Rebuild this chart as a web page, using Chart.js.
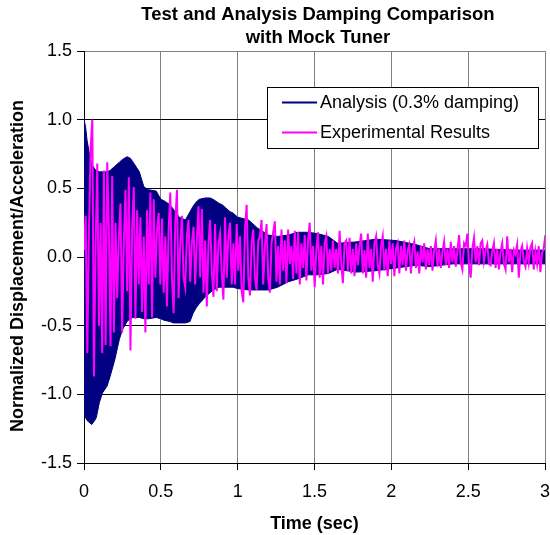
<!DOCTYPE html>
<html>
<head>
<meta charset="utf-8">
<script src="https://cdn.jsdelivr.net/npm/chart.js@4.4.0/dist/chart.umd.min.js"></script>
<style>
  html, body { margin: 0; padding: 0; background: #fff; }
</style>
</head>
<body>
<canvas id="chart" width="550" height="535"></canvas>
<script>
// Chart text
const titleLines = ['Test and Analysis Damping Comparison', 'with Mock Tuner'];
const xTitle = 'Time (sec)';
const yTitle = 'Normalized Displacement/Acceleration';
const analysisLabel = 'Analysis (0.3% damping)';
const experimentLabel = 'Experimental Results';

// Analysis response: the high-frequency band, read as its upper / lower envelope
const envTime = [0, 0.01, 0.02, 0.04, 0.05, 0.07, 0.08, 0.10, 0.12, 0.15,
    0.17, 0.20, 0.23, 0.25, 0.28, 0.30, 0.32, 0.36, 0.39, 0.42,
    0.47, 0.50, 0.52, 0.56, 0.58, 0.62, 0.66, 0.69, 0.71, 0.73,
    0.75, 0.79, 0.82, 0.84, 0.88, 0.90, 0.95, 0.97, 1.00, 1.07,
    1.13, 1.20, 1.26, 1.33, 1.39, 1.46, 1.52, 1.59, 1.65, 1.77,
    1.90, 2.03, 2.16, 2.25, 2.40, 2.60, 2.80, 3.00];
const envUpper = [1.00, 0.95, 0.85, 0.72, 0.68, 0.64, 0.63, 0.62, 0.62, 0.62,
    0.63, 0.66, 0.69, 0.71, 0.73, 0.72, 0.69, 0.62, 0.51, 0.49,
    0.48, 0.42, 0.41, 0.38, 0.35, 0.29, 0.27, 0.33, 0.37, 0.40,
    0.42, 0.43, 0.43, 0.42, 0.39, 0.38, 0.33, 0.32, 0.29, 0.27,
    0.21, 0.16, 0.15, 0.16, 0.18, 0.18, 0.17, 0.15, 0.10, 0.11,
    0.13, 0.12, 0.09, 0.06, 0.06, 0.06, 0.05, 0.05];
const envLower = [-1.10, -1.17, -1.19, -1.21, -1.22, -1.19, -1.17, -1.06, -0.99, -0.94,
    -0.87, -0.75, -0.60, -0.53, -0.47, -0.45, -0.44, -0.44, -0.45, -0.45,
    -0.44, -0.45, -0.46, -0.47, -0.48, -0.48, -0.48, -0.47, -0.41, -0.37,
    -0.34, -0.29, -0.26, -0.24, -0.22, -0.22, -0.22, -0.22, -0.23, -0.24,
    -0.24, -0.24, -0.22, -0.18, -0.16, -0.13, -0.13, -0.12, -0.09, -0.11,
    -0.10, -0.08, -0.06, -0.07, -0.05, -0.05, -0.05, -0.05];

// Experimental record, sampled every expStep seconds (one row = 10 samples)
const expStep = 0.0108;
const expValues = [
    0.05, 0.30, -0.70, 0.20, 0.79, 1.00, -0.87, 0.10, 0.68, -0.50,
    0.25, -0.70, 0.63, -0.64, 0.69, 0.20, -0.65, 0.59, -0.55, 0.25,
    -0.30, 0.15, 0.39, -0.55, 0.10, 0.49, -0.25, 0.58, -0.68, 0.20,
    0.51, -0.45, 0.34, -0.20, 0.29, -0.40, 0.15, -0.55, 0.34, -0.20,
    0.47, -0.44, 0.42, -0.15, 0.20, 0.32, -0.20, 0.28, -0.26, 0.15,
    -0.36, 0.20, 0.47, -0.15, -0.41, 0.25, 0.49, -0.30, 0.10, 0.30,
    -0.15, -0.22, 0.15, 0.27, -0.18, 0.10, 0.22, -0.20, 0.12, 0.37,
    -0.15, 0.35, -0.26, 0.12, -0.36, 0.10, 0.27, -0.10, -0.29, 0.24,
    -0.25, 0.10, 0.17, -0.12, -0.31, 0.29, -0.15, 0.15, 0.25, -0.20,
    0.10, -0.20, 0.24, -0.10, 0.15, -0.25, -0.33, 0.20, 0.38, -0.15,
    -0.28, 0.10, 0.20, -0.15, -0.24, 0.12, 0.15, 0.27, -0.20, 0.08,
    0.24, -0.15, -0.26, 0.10, 0.18, 0.26, -0.18, 0.08, -0.20, 0.20,
    -0.10, 0.12, -0.19, 0.20, -0.05, 0.08, -0.16, 0.19, -0.12, 0.18,
    -0.20, 0.10, -0.08, 0.16, -0.17, 0.12, 0.25, -0.10, 0.08, -0.22,
    0.05, 0.18, -0.15, 0.08, -0.20, 0.10, 0.15, -0.12, 0.06, -0.10,
    0.12, -0.08, 0.06, -0.12, 0.19, -0.05, -0.19, 0.10, 0.12, -0.10,
    0.14, -0.12, 0.06, -0.14, 0.10, -0.06, 0.08, 0.17, -0.12, 0.05,
    -0.15, 0.17, -0.08, 0.06, -0.18, 0.10, 0.15, -0.06, -0.12, 0.08,
    0.15, -0.10, 0.06, -0.14, 0.12, -0.05, 0.10, -0.14, 0.06, 0.10,
    -0.12, 0.08, -0.06, 0.12, -0.10, 0.05, 0.09, -0.12, 0.06, 0.11,
    -0.08, 0.04, -0.12, 0.08, -0.04, 0.10, -0.09, 0.06, -0.06, 0.08,
    -0.10, 0.05, 0.12, -0.07, 0.06, -0.08, 0.04, 0.11, -0.06, 0.06,
    -0.08, 0.11, -0.04, 0.08, -0.07, 0.05, 0.16, -0.04, -0.09, 0.10,
    0.08, 0.17, -0.06, -0.15, 0.06, 0.14, -0.04, 0.08, -0.06, 0.10,
    0.12, -0.03, 0.05, 0.09, -0.05, -0.06, 0.04, 0.10, -0.08, 0.06,
    -0.09, 0.04, 0.10, -0.05, -0.09, 0.15, -0.04, 0.06, -0.11, 0.05,
    0.02, 0.09, -0.15, 0.04, 0.08, -0.03, -0.07, 0.06, -0.04, 0.07,
    0.10, -0.09, 0.04, -0.05, 0.08, -0.11, 0.03, 0.06, 0.16, -0.04];

// Tick values
const xTicks = [0, 0.5, 1, 1.5, 2, 2.5, 3];
const yTicks = [-1.5, -1.0, -0.5, 0.0, 0.5, 1.0, 1.5];

const FONT = '"Liberation Sans", Arial, Helvetica, sans-serif';
const NAVY = '#000080';
const MAGENTA = '#FF00FF';

const legendItems = [
    { label: analysisLabel, color: NAVY },
    { label: experimentLabel, color: MAGENTA }
];

const toPoints = (xs, ys) => ys.map((y, i) => ({ x: xs[i], y: y }));
const expTime = expValues.map((v, i) => +(i * expStep).toFixed(4));

// Title, rotated y title and the boxed legend inside the plot
const overlayPlugin = {
    id: 'overlay',
    afterDraw(chart) {
        const ctx = chart.ctx;
        ctx.save();
        ctx.fillStyle = '#000';
        ctx.textAlign = 'center';
        ctx.textBaseline = 'middle';
        ctx.font = 'bold 18.5px ' + FONT;
        titleLines.forEach((line, i) => ctx.fillText(line, 318, 15 + i * 23));

        ctx.save();
        ctx.translate(18, 266);
        ctx.rotate(-Math.PI / 2);
        ctx.font = 'bold 18px ' + FONT;
        ctx.fillText(yTitle, 0, 0);
        ctx.restore();

        const box = { x: 267.5, y: 87.5, w: 271, h: 61 };
        ctx.fillStyle = '#fff';
        ctx.fillRect(box.x, box.y, box.w, box.h);
        ctx.strokeStyle = '#000';
        ctx.lineWidth = 1;
        ctx.strokeRect(box.x, box.y, box.w, box.h);
        ctx.font = '18px ' + FONT;
        ctx.textAlign = 'left';
        legendItems.forEach((item, i) => {
            const y = box.y + 15 + i * 30;
            ctx.strokeStyle = item.color;
            ctx.lineWidth = 2;
            ctx.beginPath();
            ctx.moveTo(282, y);
            ctx.lineTo(317, y);
            ctx.stroke();
            ctx.fillStyle = '#000';
            ctx.fillText(item.label, 320, y + 1);
        });
        ctx.restore();
    }
};

new Chart(document.getElementById('chart'), {
    type: 'line',
    data: {
        datasets: [
            {
                label: experimentLabel,
                data: toPoints(expTime, expValues),
                borderColor: MAGENTA,
                borderWidth: 2,
                pointRadius: 0,
                fill: false,
                order: 0
            },
            {
                label: analysisLabel,
                data: toPoints(envTime, envUpper),
                borderColor: NAVY,
                backgroundColor: NAVY,
                borderWidth: 1,
                pointRadius: 0,
                fill: '+1',
                order: 1
            },
            {
                label: analysisLabel + ' lower',
                data: toPoints(envTime, envLower),
                borderColor: NAVY,
                backgroundColor: NAVY,
                borderWidth: 1,
                pointRadius: 0,
                fill: false,
                order: 2
            }
        ]
    },
    options: {
        responsive: false,
        animation: false,
        layout: { padding: { top: 51, right: 0, left: 0, bottom: 0 } },
        plugins: {
            legend: { display: false },
            title: { display: false },
            tooltip: { enabled: false }
        },
        scales: {
            x: {
                type: 'linear',
                min: xTicks[0],
                max: xTicks[xTicks.length - 1],
                afterBuildTicks(scale) { scale.ticks = xTicks.map(v => ({ value: v })); },
                ticks: {
                    color: '#000',
                    padding: 11,
                    maxRotation: 0,
                    autoSkip: false,
                    font: { family: FONT, size: 18 },
                    callback: v => String(v)
                },
                grid: { color: '#808080', tickColor: '#000', tickLength: 7 },
                border: { color: '#000' },
                title: {
                    display: true,
                    text: xTitle,
                    color: '#000',
                    padding: { top: 0, bottom: 0 },
                    font: { family: FONT, size: 18, weight: 'bold' }
                },
                afterFit(scale) {
                    scale.height = 72;
                    scale.paddingLeft = 0;
                    scale.paddingRight = 5;
                }
            },
            y: {
                min: yTicks[0],
                max: yTicks[yTicks.length - 1],
                afterBuildTicks(scale) { scale.ticks = yTicks.map(v => ({ value: v })); },
                ticks: {
                    color: '#000',
                    padding: 5,
                    autoSkip: false,
                    font: { family: FONT, size: 18 },
                    callback: v => v.toFixed(1)
                },
                grid: {
                    color: ctx => (ctx.tick && ctx.tick.value === 1.5) ? '#808080' : '#000',
                    tickColor: '#000',
                    tickLength: 7
                },
                border: { color: '#000' },
                afterFit(scale) { scale.width = 84; }
            }
        }
    },
    plugins: [overlayPlugin]
});
</script>
</body>
</html>
